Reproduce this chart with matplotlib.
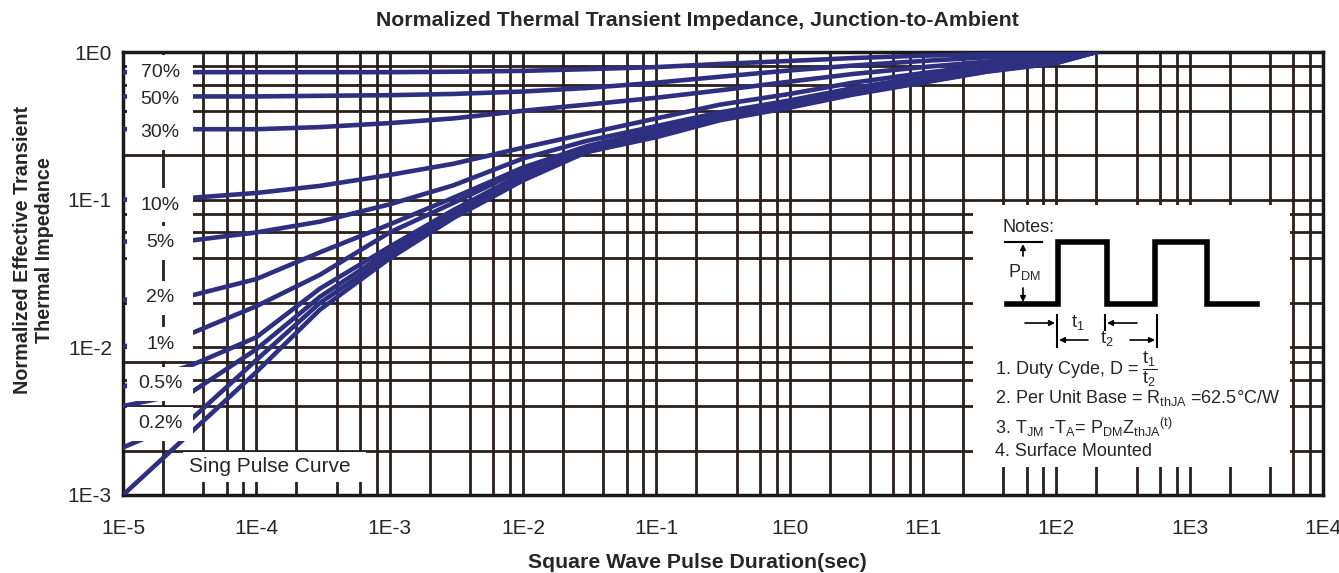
import numpy as np
import matplotlib
matplotlib.use("Agg")
import matplotlib.pyplot as plt
from matplotlib.patches import Rectangle

plt.rcParams['font.family'] = ['Liberation Sans', 'DejaVu Sans']
plt.rcParams['mathtext.fontset'] = 'custom'
plt.rcParams['mathtext.rm'] = 'Liberation Sans'
plt.rcParams['mathtext.it'] = 'Liberation Sans:italic'
plt.rcParams['mathtext.bf'] = 'Liberation Sans:bold'

pulse_time = [1e-5, 3.3e-5, 1e-4, 3e-4, 1e-3, 3e-3, 1e-2, 3e-2, 1e-1, 3e-1,
              1, 3, 10, 30, 100, 200]

# normalized transient impedance per duty cycle
d70 = [0.73, 0.73, 0.73, 0.73, 0.73, 0.735, 0.745, 0.765, 0.79, 0.83, 0.87, 0.91, 0.945, 0.965, 0.985, 1.0]
d50 = [0.50, 0.50, 0.50, 0.505, 0.51, 0.52, 0.54, 0.57, 0.62, 0.68, 0.75, 0.81, 0.87, 0.92, 0.96, 1.0]
d30 = [0.30, 0.30, 0.30, 0.31, 0.33, 0.355, 0.40, 0.44, 0.49, 0.55, 0.63, 0.71, 0.79, 0.86, 0.93, 1.0]
d10 = [0.100, 0.103, 0.111, 0.124, 0.147, 0.175, 0.225, 0.28, 0.355, 0.44, 0.52, 0.62, 0.72, 0.81, 0.90, 1.0]
d5 = [0.052, 0.053, 0.060, 0.071, 0.093, 0.125, 0.19, 0.25, 0.315, 0.39, 0.47, 0.57, 0.68, 0.78, 0.88, 1.0]
d2 = [0.021, 0.0225, 0.029, 0.044, 0.068, 0.103, 0.165, 0.23, 0.30, 0.375, 0.46, 0.555, 0.66, 0.765, 0.87, 1.0]
d1 = [0.0101, 0.0125, 0.019, 0.031, 0.060, 0.095, 0.16, 0.225, 0.29, 0.365, 0.45, 0.545, 0.65, 0.76, 0.86, 1.0]
d05a = [0.0054, 0.0076, 0.0117, 0.025, 0.048, 0.085, 0.15, 0.22, 0.28, 0.36, 0.44, 0.535, 0.64, 0.75, 0.855, 1.0]
d05b = [0.0040, 0.0050, 0.0097, 0.022, 0.045, 0.079, 0.145, 0.215, 0.275, 0.355, 0.43, 0.53, 0.63, 0.745, 0.85, 1.0]
d02 = [0.0021, 0.0033, 0.0082, 0.020, 0.042, 0.077, 0.140, 0.21, 0.27, 0.35, 0.425, 0.52, 0.625, 0.74, 0.845, 1.0]
single = [0.001, 0.0027, 0.0068, 0.018, 0.040, 0.075, 0.135, 0.21, 0.265, 0.345, 0.42, 0.515, 0.62, 0.735, 0.84, 1.0]

curves = [d70, d50, d30, d10, d5, d2, d1, d05a, d05b, d02, single]

# curve labels and where they sit on the left
duty_labels = ['70%', '50%', '30%', '10%', '5%', '2%', '1%', '0.5%', '0.2%']
duty_label_y = [0.73, 0.48, 0.283, 0.092, 0.051, 0.0216, 0.0105, 0.00565, 0.00303]

x_ticks = [1e-5, 1e-4, 1e-3, 1e-2, 1e-1, 1, 10, 100, 1000, 10000]
x_tick_labels = ['1E-5', '1E-4', '1E-3', '1E-2', '1E-1', '1E0', '1E1', '1E2', '1E3', '1E4']
y_ticks = [1e-3, 1e-2, 1e-1, 1]
y_tick_labels = ['1E-3', '1E-2', '1E-1', '1E0']

W, H = 1339, 573
grid_col = '#2a201b'
line_col = '#2e2f80'
txt_col = '#262626'

fig = plt.figure(figsize=(W / 100, H / 100), dpi=100)
ax = fig.add_axes([123 / W, 1 - 495 / H, 1200 / W, 443 / H])
ax.set_xscale('log')
ax.set_yscale('log')
ax.set_xlim(1e-5, 1e4)
ax.set_ylim(1e-3, 1)

ax.set_xticks(x_ticks)
ax.set_xticklabels(x_tick_labels)
ax.set_xticks([m * d for d in x_ticks[:-1] for m in (2, 4, 6, 8)], minor=True)
ax.set_xticklabels([], minor=True)
ax.set_yticks(y_ticks)
ax.set_yticklabels(y_tick_labels)
ax.set_yticks([m * d for d in y_ticks[:-1] for m in (2, 4, 6, 8)], minor=True)
ax.set_yticklabels([], minor=True)
ax.tick_params(which='both', length=0, labelsize=15, colors=txt_col)
ax.tick_params(axis='x', pad=17)
ax.tick_params(axis='y', pad=8)
ax.set_axisbelow(True)
ax.grid(True, which='both', color=grid_col, lw=2.0)
for s in ax.spines.values():
    s.set_linewidth(2.5)
    s.set_color('#1a1a1a')

for c in curves:
    ax.plot(pulse_time, c, color=line_col, lw=3.3, zorder=3)

# white label boxes on the left
x0, x1 = 1.07e-5, 3.35e-5
for lab, yv in zip(duty_labels, duty_label_y):
    ax.add_patch(Rectangle((x0, yv / 1.3), x1 - x0, yv * 1.3 - yv / 1.3,
                           facecolor='white', edgecolor='none', zorder=4))
    ax.text(1.9e-5, yv, lab, ha='center', va='center', fontsize=14,
            color=txt_col, zorder=5)
ax.add_patch(Rectangle((2.8e-5, 1.23e-3), 6.6e-4 - 2.8e-5, 1.96e-3 - 1.23e-3,
                       facecolor='white', edgecolor='none', zorder=4))
ax.text(3.1e-5, 1.55e-3, 'Sing Pulse Curve', ha='left', va='center',
        fontsize=15, color=txt_col, zorder=5)

fig.text(697 / W, 1 - 562 / H, 'Square Wave Pulse Duration(sec)', fontsize=15.3,
         fontweight='bold', ha='center', va='center', color=txt_col)
fig.text(34 / W, 1 - 250 / H, 'Normalized Effective Transient\nThermal Impedance',
         fontsize=14.2, fontweight='bold', rotation=90, ha='center', va='center',
         multialignment='center', linespacing=1.2, color=txt_col)
fig.text(697 / W, 1 - 20 / H,
         'Normalized Thermal Transient Impedance, Junction-to-Ambient',
         ha='center', va='center', fontsize=15.3, fontweight='bold', color=txt_col)

# notes panel, drawn in reference pixel coordinates
ov = fig.add_axes([0, 0, 1, 1], zorder=5)
ov.set_xlim(0, W)
ov.set_ylim(H, 0)
ov.axis('off')
ov.add_patch(Rectangle((973, 205), 317, 262, facecolor='white', edgecolor='none'))

ov.plot([1007, 1058, 1058, 1107, 1107, 1155, 1155, 1207, 1207, 1257],
        [304, 304, 242, 242, 304, 304, 242, 242, 304, 304],
        color='black', lw=4, solid_joinstyle='miter')
ov.plot([1005, 1042], [242, 242], color='black', lw=1.5)
ov.text(1002, 228, 'Notes:', fontsize=13, va='center', ha='left', color=txt_col)
ov.text(1008, 272, r'P$_{\mathrm{DM}}$', fontsize=13, va='center', ha='left', color=txt_col)
arr = dict(arrowstyle='-|>', lw=1.2, color='black', mutation_scale=8, shrinkA=0, shrinkB=0)
ov.annotate('', xy=(1023, 244), xytext=(1023, 256), arrowprops=arr)
ov.annotate('', xy=(1023, 302), xytext=(1023, 288), arrowprops=arr)
for xv, y0, y1 in [(1057, 315, 347), (1105, 315, 330), (1157, 315, 347)]:
    ov.plot([xv, xv], [y0, y1], color='black', lw=1.5)
ov.annotate('', xy=(1055, 323), xytext=(1025, 323), arrowprops=arr)
ov.annotate('', xy=(1059, 340), xytext=(1088, 340), arrowprops=arr)
ov.annotate('', xy=(1107, 323), xytext=(1137, 323), arrowprops=arr)
ov.annotate('', xy=(1155, 340), xytext=(1130, 340), arrowprops=arr)
ov.text(1071, 322, r't$_1$', fontsize=13, va='center', ha='left', color=txt_col)
ov.text(1100, 339, r't$_2$', fontsize=13, va='center', ha='left', color=txt_col)

notes = [
    (369, r'1. Duty Cyde, D = $\dfrac{\mathrm{t}_1}{\mathrm{t}_2}$'),
    (398, r'2. Per Unit Base = R$_{\mathrm{thJA}}$ =62.5°C/W'),
    (427, r'3. T$_{\mathrm{JM}}$ -T$_{\mathrm{A}}$= P$_{\mathrm{DM}}$Z$_{\mathrm{thJA}}$$^{\mathrm{(t)}}$'),
    (452, '4. Surface Mounted'),
]
for yv, txt in notes:
    ov.text(995, yv, txt, fontsize=13, va='center', ha='left', color=txt_col)

fig.savefig('out.png', dpi=100)
